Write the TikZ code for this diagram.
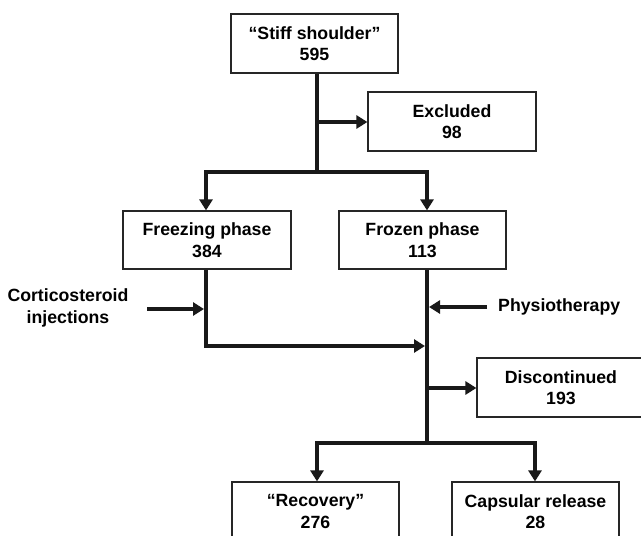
\documentclass[tikz,border=0pt]{standalone}
\usepackage{fontspec}
\setmainfont{Liberation Sans}
\usetikzlibrary{arrows.meta}
\begin{document}
\begin{tikzpicture}[x=1pt,y=-1pt,
 txt/.style={font=\bfseries\fontsize{17.7}{21.5}\selectfont},
 box/.style={txt, draw=black!85, line width=1.2pt, minimum width=167pt, minimum height=59pt, inner sep=0pt, align=center},
 lbl/.style={txt, inner sep=0pt, align=center},
 conn/.style={line width=4pt, draw=black!90, line join=miter},
 arr/.style={conn, -{Triangle[length=11pt,width=13pt]}}
]
\useasboundingbox (0,0) rectangle (641,536);
\node[box] (stiff) at (314.5,43.5) {“Stiff shoulder”\\595};
\node[box, minimum width=168pt] (excl) at (452,121.5) {Excluded\\98};
\node[box, minimum width=168pt, minimum height=58pt] (freez) at (207,240) {Freezing phase\\384};
\node[box, minimum height=58pt] (frozen) at (422.5,240) {Frozen phase\\113};
\node[box, minimum width=168pt] (disc) at (561,387.5) {Discontinued\\193};
\node[box] (recov) at (315.5,511.5) {“Recovery”\\276};
\node[box] (caps) at (535.5,511.5) {Capsular release\\28};
\node[lbl] (cort) at (68,308) {Corticosteroid\\injections};
\node[lbl, anchor=west] (physio) at (498,307) {Physiotherapy};

\coordinate (s1) at (317,122);
\coordinate (s2) at (317,172);
\coordinate (fl) at (206,172);
\coordinate (fr) at (427,172);
\coordinate (a2) at (206,346);
\coordinate (m1) at (425,346);
\coordinate (ca) at (147,309);
\coordinate (a1) at (204,309);
\coordinate (pa) at (487,307);
\coordinate (p1) at (429,307);
\coordinate (d1) at (427,388);
\coordinate (b1) at (427,443);
\coordinate (bl) at (317,443);
\coordinate (br) at (535,443);

\draw[conn] (stiff.south -| s2) -- (s2);
\draw[arr] (s1) -- (excl.west |- s1);
\draw[arr] (s2) -| (freez.north -| fl);
\draw[arr] (s2) -| (frozen.north -| fr);
\draw[arr] (freez.south -| a2) -- (a2) -- (m1);
\draw[conn] (frozen.south -| b1) -- (b1);
\draw[arr] (ca) -- (a1);
\draw[arr] (pa) -- (p1);
\draw[arr] (d1) -- (disc.west |- d1);
\draw[arr] (b1) -| (recov.north -| bl);
\draw[arr] (b1) -| (caps.north -| br);
\end{tikzpicture}
\end{document}
